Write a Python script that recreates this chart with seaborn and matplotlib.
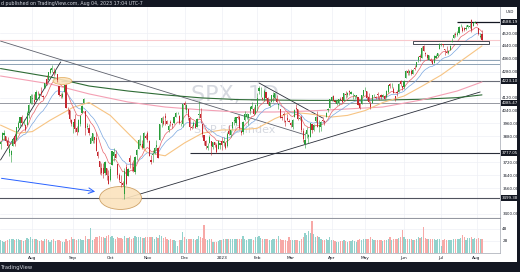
import matplotlib
matplotlib.use('Agg')
import matplotlib.pyplot as plt
from matplotlib.patches import Ellipse, Rectangle
import numpy as np
import pandas as pd
import seaborn as sns

# trading calendar
holidays = ['2022-09-05', '2022-11-24', '2022-12-26', '2023-01-02', '2023-01-16',
            '2023-02-20', '2023-04-07', '2023-05-29', '2023-06-19', '2023-07-04']
dates = pd.bdate_range('2022-07-06', '2023-08-04', freq='C', holidays=holidays)

# daily SPX candles (estimated), one line per month
open_ = [
    3831, 3858, 3888, 3880, 3851, 3779, 3764, 3819, 3883, 3860, 3935, 3960, 3999, 3965, 3953, 3951, 4026, 4087,
    4113, 4105, 4107, 4154, 4116, 4156, 4133, 4181, 4233, 4227, 4270, 4291, 4280, 4274, 4267, 4195, 4136, 4126, 4154, 4199, 4034, 4041, 3981,
    3937, 3986, 3931, 3909, 3959, 4023, 4084, 4037, 3940, 3932, 3830, 3849, 3876, 3871, 3782, 3727, 3682, 3686, 3651, 3687, 3633,
    3609, 3701, 3761, 3771, 3707, 3640, 3595, 3590, 3521, 3690, 3638, 3746, 3696, 3689, 3657, 3764, 3799, 3826, 3834, 3809, 3881,
    3901, 3853, 3734, 3766, 3780, 3817, 3810, 3859, 3964, 3977, 4006, 3976, 3919, 3966, 3956, 3965, 4000, 4024, 4005, 3957, 3957,
    4087, 4041, 4052, 3996, 3937, 3947, 3954, 3940, 4015, 4016, 3958, 3890, 3853, 3811, 3839, 3853, 3815, 3843, 3829, 3805, 3829,
    3853, 3840, 3840, 3823, 3911, 3888, 3932, 3977, 3961, 3999, 4003, 3911, 3910, 3979, 4001, 3997, 4036, 4050, 4049, 4021,
    4071, 4158, 4136, 4120, 4105, 4153, 4117, 4068, 4096, 4126, 4120, 4114, 4077, 4052, 4001, 4018, 3973, 3992, 3977,
    3963, 3939, 3998, 4055, 4048, 3987, 3998, 3912, 3835, 3894, 3876, 3878, 3958, 3917, 3975, 4002, 3939, 3939, 3983, 3974, 3999, 4046, 4056,
    4103, 4128, 4098, 4082, 4085, 4110, 4122, 4100, 4140, 4137, 4164, 4140, 4130, 4133, 4132, 4126, 4088, 4082, 4129,
    4166, 4164, 4122, 4082, 4084, 4136, 4125, 4143, 4132, 4139, 4126, 4128, 4122, 4157, 4204, 4191, 4176, 4132, 4155, 4156, 4226, 4191,
    4183, 4242, 4282, 4271, 4285, 4268, 4304, 4308, 4352, 4375, 4366, 4440, 4397, 4381, 4355, 4355, 4345, 4337, 4367, 4377, 4422,
    4450, 4450, 4422, 4404, 4395, 4415, 4467, 4492, 4514, 4508, 4521, 4563, 4554, 4550, 4544, 4555, 4559, 4598, 4565, 4585,
    4578, 4550, 4494, 4514,
]
high = [
    3851, 3910, 3919, 3880, 3874, 3829, 3796, 3865, 3903, 3940, 3975, 4002, 4013, 3989, 3955, 4039, 4079, 4140,
    4141, 4141, 4167, 4161, 4151, 4186, 4137, 4211, 4258, 4281, 4302, 4325, 4303, 4292, 4267, 4195, 4150, 4156, 4200, 4203, 4062, 4044, 3985,
    3970, 4019, 3942, 3987, 4010, 4077, 4119, 4037, 3960, 3957, 3880, 3902, 3877, 3907, 3790, 3727, 3716, 3717, 3727, 3687, 3671,
    3698, 3791, 3807, 3798, 3711, 3654, 3641, 3601, 3685, 3712, 3686, 3762, 3720, 3736, 3757, 3799, 3862, 3887, 3859, 3905, 3893,
    3911, 3859, 3765, 3796, 3814, 3860, 3813, 3958, 4002, 4008, 4028, 3983, 3954, 3980, 3962, 4005, 4034, 4034, 4013, 3966, 4080,
    4101, 4080, 4052, 4001, 3951, 3977, 3977, 3991, 4101, 4053, 3958, 3890, 3855, 3839, 3889, 3853, 3846, 3846, 3839, 3858, 3840,
    3878, 3874, 3840, 3907, 3951, 3920, 3970, 3998, 4003, 4015, 4015, 3922, 3973, 4039, 4028, 4020, 4069, 4095, 4063, 4079,
    4148, 4195, 4183, 4127, 4176, 4157, 4123, 4095, 4138, 4156, 4149, 4137, 4082, 4052, 4005, 4029, 3979, 4018, 3987,
    3972, 3990, 4048, 4078, 4051, 4002, 4010, 3935, 3905, 3937, 3894, 3965, 3959, 3957, 4009, 4039, 3981, 3976, 4003, 3980, 4030, 4058, 4110,
    4128, 4134, 4108, 4108, 4109, 4124, 4125, 4151, 4164, 4152, 4170, 4163, 4148, 4136, 4138, 4126, 4089, 4139, 4170,
    4187, 4164, 4148, 4099, 4139, 4143, 4131, 4155, 4133, 4143, 4141, 4135, 4165, 4200, 4213, 4210, 4186, 4133, 4165, 4212, 4231, 4192,
    4232, 4290, 4300, 4288, 4299, 4299, 4322, 4341, 4375, 4391, 4439, 4448, 4400, 4390, 4383, 4367, 4362, 4385, 4389, 4398, 4458,
    4456, 4452, 4422, 4440, 4412, 4443, 4489, 4518, 4528, 4532, 4563, 4578, 4565, 4555, 4568, 4569, 4583, 4607, 4590, 4595,
    4584, 4551, 4520, 4540,
]
low = [
    3802, 3858, 3859, 3847, 3811, 3759, 3722, 3818, 3819, 3860, 3929, 3946, 3942, 3953, 3911, 3951, 3997, 4080,
    4079, 4080, 4107, 4136, 4107, 4132, 4112, 4181, 4201, 4227, 4265, 4278, 4254, 4269, 4219, 4131, 4115, 4120, 4154, 4057, 4017, 3971, 3944,
    3903, 3907, 3886, 3906, 3944, 4023, 4084, 3886, 3925, 3887, 3837, 3838, 3838, 3789, 3749, 3647, 3644, 3623, 3640, 3610, 3584,
    3604, 3701, 3727, 3744, 3625, 3599, 3568, 3571, 3492, 3578, 3638, 3687, 3666, 3658, 3647, 3735, 3799, 3824, 3803, 3808, 3863,
    3843, 3759, 3709, 3722, 3773, 3794, 3745, 3859, 3937, 3949, 3953, 3954, 3906, 3944, 3933, 3956, 3999, 4020, 3956, 3945, 3938,
    4051, 4027, 3984, 3918, 3923, 3933, 3934, 3939, 3994, 3966, 3879, 3827, 3800, 3796, 3839, 3765, 3800, 3813, 3780, 3805, 3800,
    3795, 3819, 3803, 3814, 3890, 3877, 3925, 3950, 3951, 3985, 3928, 3886, 3897, 3974, 3990, 3949, 4020, 4048, 4015, 4021,
    4038, 4141, 4124, 4103, 4097, 4111, 4072, 4060, 4092, 4096, 4113, 4089, 4048, 3995, 3981, 3972, 3944, 3977, 3968,
    3940, 3928, 3998, 4044, 3980, 3980, 3908, 3847, 3809, 3873, 3839, 3875, 3901, 3916, 3972, 3936, 3907, 3914, 3971, 3951, 3999, 4032, 4056,
    4100, 4097, 4084, 4073, 4072, 4103, 4087, 4100, 4115, 4123, 4139, 4140, 4114, 4113, 4117, 4072, 4049, 4082, 4128,
    4158, 4104, 4088, 4049, 4084, 4123, 4113, 4114, 4108, 4109, 4124, 4109, 4116, 4150, 4180, 4181, 4146, 4097, 4129, 4156, 4193, 4166,
    4172, 4242, 4262, 4262, 4263, 4267, 4293, 4307, 4339, 4346, 4365, 4407, 4378, 4360, 4352, 4341, 4328, 4336, 4363, 4370, 4422,
    4442, 4431, 4385, 4397, 4390, 4415, 4463, 4492, 4497, 4504, 4514, 4557, 4528, 4531, 4541, 4548, 4548, 4528, 4564, 4579,
    4567, 4505, 4490, 4474,
]
close = [
    3845, 3903, 3899, 3854, 3819, 3801, 3790, 3863, 3830, 3937, 3960, 3999, 3961, 3967, 3921, 4024, 4072, 4130,
    4119, 4091, 4155, 4152, 4145, 4140, 4122, 4210, 4207, 4280, 4297, 4305, 4274, 4284, 4228, 4138, 4128, 4141, 4199, 4058, 4030, 3986, 3955,
    3967, 3924, 3908, 3980, 4006, 4067, 4110, 3932, 3946, 3901, 3873, 3900, 3856, 3790, 3758, 3693, 3655, 3647, 3720, 3640, 3586,
    3678, 3791, 3783, 3745, 3640, 3612, 3589, 3577, 3669, 3583, 3677, 3720, 3695, 3666, 3752, 3797, 3859, 3830, 3807, 3901, 3872,
    3856, 3759, 3720, 3771, 3807, 3828, 3749, 3956, 3993, 3957, 3992, 3959, 3947, 3965, 3950, 4003, 4027, 4026, 3964, 3958, 4080,
    4076, 4072, 3999, 3941, 3933, 3963, 3934, 3990, 4020, 3996, 3896, 3852, 3818, 3821, 3879, 3822, 3845, 3829, 3783, 3849, 3840,
    3824, 3853, 3808, 3895, 3893, 3919, 3970, 3983, 3999, 3991, 3929, 3899, 3972, 4019, 4017, 4016, 4060, 4071, 4018, 4077,
    4119, 4180, 4136, 4111, 4164, 4118, 4082, 4090, 4137, 4136, 4148, 4090, 4079, 3997, 3991, 4012, 3970, 3982, 3970,
    3951, 3981, 4046, 4048, 3986, 3992, 3918, 3862, 3855, 3920, 3891, 3960, 3917, 3951, 4003, 3937, 3948, 3971, 3977, 3971, 4027, 4051, 4109,
    4125, 4101, 4091, 4105, 4109, 4108, 4092, 4146, 4138, 4151, 4155, 4154, 4130, 4133, 4137, 4072, 4056, 4136, 4169,
    4168, 4120, 4091, 4061, 4136, 4138, 4119, 4138, 4131, 4124, 4136, 4110, 4159, 4198, 4192, 4193, 4146, 4116, 4151, 4205, 4206, 4180,
    4221, 4282, 4273, 4284, 4268, 4294, 4299, 4338, 4369, 4373, 4426, 4410, 4389, 4366, 4382, 4348, 4328, 4378, 4376, 4396, 4450,
    4455, 4447, 4412, 4399, 4410, 4439, 4473, 4510, 4505, 4522, 4555, 4566, 4535, 4536, 4554, 4567, 4566, 4537, 4582, 4589,
    4577, 4513, 4501, 4478,
]
# volume in billions
volume = [
    2.1, 2.0, 1.9, 2.0, 2.1, 2.3, 2.4, 2.3, 2.2, 2.4, 2.3, 2.2, 2.1, 2.0, 2.1, 2.5, 2.4, 2.6,
    2.3, 2.4, 2.3, 2.2, 2.0, 2.1, 2.0, 2.4, 2.3, 2.1, 1.9, 2.2, 2.3, 2.0, 2.1, 2.2, 2.0, 1.9, 1.9, 2.3, 2.0, 2.2, 2.6,
    2.4, 2.3, 2.2, 2.3, 2.3, 2.2, 2.1, 2.8, 2.4, 2.4, 4.2, 2.2, 2.3, 2.6, 2.6, 2.8, 2.7, 2.6, 2.5, 2.8, 3.0,
    2.6, 2.8, 2.5, 2.4, 2.6, 2.5, 2.5, 2.3, 2.9, 2.5, 2.5, 2.6, 2.4, 2.5, 2.8, 2.6, 2.6, 2.6, 2.5, 2.5, 2.7,
    2.6, 2.7, 2.6, 2.7, 2.4, 2.6, 2.5, 3.0, 2.8, 2.5, 2.6, 2.4, 2.2, 2.4, 2.2, 2.2, 2.0, 1.2, 2.1, 2.2, 3.5,
    2.7, 2.4, 2.3, 2.4, 2.3, 2.3, 2.1, 2.4, 2.8, 2.7, 2.5, 4.7, 2.3, 2.2, 2.3, 2.4, 1.9, 1.8, 1.9, 2.0, 2.1,
    2.2, 2.4, 2.3, 2.4, 2.3, 2.3, 2.3, 2.4, 2.3, 2.4, 2.4, 2.4, 2.8, 2.3, 2.2, 2.3, 2.4, 2.3, 2.2, 2.6,
    2.7, 2.8, 2.5, 2.3, 2.3, 2.3, 2.3, 2.1, 2.1, 2.4, 2.3, 2.4, 2.8, 2.3, 2.2, 2.2, 2.1, 2.0, 2.6,
    2.2, 2.2, 2.2, 2.1, 2.2, 2.0, 2.4, 2.7, 3.4, 3.0, 3.6, 3.4, 5.3, 3.2, 2.7, 2.9, 2.7, 2.3, 2.2, 2.2, 2.3, 2.1, 2.6,
    2.2, 2.1, 2.0, 1.9, 1.8, 2.0, 2.0, 2.1, 2.0, 1.9, 2.0, 2.0, 2.1, 2.0, 1.9, 2.2, 2.3, 2.2, 2.4,
    2.3, 2.4, 2.4, 2.6, 2.4, 2.1, 2.1, 2.2, 2.2, 2.1, 2.0, 2.2, 2.2, 2.4, 2.7, 2.2, 2.3, 2.3, 2.4, 2.5, 2.6, 3.9,
    2.6, 2.4, 2.3, 2.3, 2.4, 2.2, 2.2, 2.3, 2.6, 2.5, 2.6, 4.3, 2.5, 2.4, 2.3, 2.3, 2.4, 2.3, 2.2, 2.3, 2.4,
    1.1, 2.2, 2.4, 2.2, 2.1, 2.1, 2.2, 2.3, 2.3, 2.3, 2.4, 2.5, 3.0, 2.6, 2.2, 2.5, 2.5, 2.6, 2.4, 2.5,
    2.3, 2.5, 2.4, 2.3,
]

# slower moving averages
ma_dates = ['2022-07-06', '2022-08-15', '2022-09-15', '2022-10-17', '2022-11-15', '2022-12-15', '2023-01-17',
            '2023-02-15', '2023-03-15', '2023-04-17', '2023-05-15', '2023-06-15', '2023-07-17', '2023-08-04']
ma100 = [4254, 4205, 4143, 4093, 4062, 4044, 4031, 4031, 4037, 4050, 4062, 4106, 4161, 4217]
ma200 = [4300, 4248, 4192, 4161, 4137, 4118, 4108, 4105, 4103, 4103, 4105, 4110, 4120, 4137]
ma50_dates = ['2022-07-06', '2022-07-20', '2022-08-01', '2022-08-15', '2022-09-01', '2022-09-15', '2022-10-03',
              '2022-10-17', '2022-11-01', '2022-11-15', '2022-12-01', '2022-12-15', '2023-01-03', '2023-01-17',
              '2023-02-01', '2023-02-15', '2023-03-01', '2023-03-15', '2023-04-03', '2023-04-17', '2023-05-01',
              '2023-05-15', '2023-06-01', '2023-06-15', '2023-07-03', '2023-07-17', '2023-08-04']
ma50 = [3950, 3900, 3910, 3980, 4060, 4090, 4010, 3900, 3780, 3760, 3840, 3900, 3920, 3920,
        3930, 3990, 4030, 4020, 4000, 4010, 4040, 4090, 4130, 4190, 4260, 4330, 4440]

# horizontal levels and axis labels
price_ticks = [3400, 3560, 3640, 3720, 3880, 3960, 4040, 4120, 4280, 4360, 4440, 4520]
month_labels = ['Aug', 'Sep', 'Oct', 'Nov', 'Dec', '2023', 'Feb', 'Mar', 'Apr', 'May', 'Jun', 'Jul', 'Aug']
levels = [4588.19, 4223.10, 4085.47, 3777.05, 3499.38]

df = pd.DataFrame({'date': dates, 'open': open_, 'high': high, 'low': low,
                   'close': close, 'volume': volume})
df['i'] = np.arange(len(df))
df['ema10'] = df['close'].ewm(span=10, adjust=False).mean()
df['ema20'] = df['close'].ewm(span=20, adjust=False).mean()
up = df['close'] >= df['open']


def idx(d):
    return int(df['date'].searchsorted(pd.Timestamp(d)))


sns.set_style('white')
plt.rcParams['font.family'] = ['Liberation Sans Narrow', 'DejaVu Sans']

W, H = 520, 272
fig = plt.figure(figsize=(W / 100, H / 100), dpi=100)


def box(x0, y0, x1, y1):
    return [x0 / W, 1 - y1 / H, (x1 - x0) / W, (y1 - y0) / H]


ax = fig.add_axes(box(0, 7, 500, 218))
axv = fig.add_axes(box(0, 219, 500, 253), sharex=ax)

xmax = 282.2
ax.set_xlim(-0.3, xmax)
ax.set_ylim(3375, 4681)

grid_c = '#eef0f5'
for a in (ax, axv):
    for s in a.spines.values():
        s.set_visible(False)
    a.spines['right'].set_visible(True)
    a.spines['right'].set_color('#b2b5be')
    a.spines['right'].set_linewidth(0.6)
    a.yaxis.tick_right()
    a.tick_params(length=0, labelsize=2.9, colors='#131722', pad=1.6)

month_pos = [int(np.argmax((df['date'].dt.month == d.month) & (df['date'].dt.year == d.year)))
             for d in pd.date_range('2022-08-01', '2023-08-01', freq='MS')]
ax.set_xticks(month_pos)
ax.set_yticks(price_ticks)
ax.set_yticklabels([f'{p:.2f}' for p in price_ticks])
ax.grid(True, color=grid_c, lw=0.5)
ax.tick_params(axis='x', labelbottom=False)
ax.spines['bottom'].set_visible(True)
ax.spines['bottom'].set_color('#9598a1')
ax.spines['bottom'].set_linewidth(0.8)

# watermark
ax.text(0.47, 0.585, 'SPX, 1D', transform=ax.transAxes, fontsize=16, color='#d6d9e0',
        ha='center', va='center', zorder=0, family='DejaVu Sans')
ax.text(0.47, 0.415, 'S&P 500 Index', transform=ax.transAxes, fontsize=8, color='#d6d9e0',
        ha='center', va='center', zorder=0, family='DejaVu Sans')

# horizontal drawings
ax.hlines([4353, 4328], -1, xmax, color='#8ea3b5', lw=0.7, zorder=2)
ax.hlines(levels[1], 34, xmax, color='#6a6d78', lw=0.8, zorder=2)
ax.hlines(levels[2], -1, xmax, color='#9598a1', lw=0.7, zorder=2)
ax.hlines(levels[3], 107, xmax, color='#2a2e39', lw=0.8, zorder=2)
ax.hlines(levels[4], -1, xmax, color='#50535e', lw=0.8, zorder=2)
ax.hlines(levels[0], 258, xmax, color='#131722', lw=0.9, zorder=4)
ax.axhline(df['close'].iloc[-1], color='#f9c9cd', lw=0.8, zorder=1)
ax.add_patch(Rectangle((233, 4452), 43, 19, fc='white', ec='#2a2e39', lw=0.6, zorder=4))

# trend lines
ax.plot([0, 172], [4470, 3890], color='#5d606b', lw=0.6, zorder=2)
ax.plot([0, 34], [3734, 4341], color='#2a2e39', lw=0.6, zorder=2)
ax.plot([146, 182], [4211, 3994], color='#2a2e39', lw=0.6, zorder=2)
ax.plot([69, 271], [3491, 4155], color='#2a2e39', lw=0.6, zorder=2)

# moving averages
sns.lineplot(x=[idx(d) for d in ma_dates], y=ma200, ax=ax, color='#2e6b35', lw=0.8, zorder=3)
sns.lineplot(x=[idx(d) for d in ma_dates], y=ma100, ax=ax, color='#f4a0b4', lw=0.8, zorder=3)
sns.lineplot(x=[idx(d) for d in ma50_dates], y=ma50, ax=ax, color='#f7c483', lw=0.8, zorder=3)
sns.lineplot(data=df, x='i', y='ema20', ax=ax, color='#7aa7e0', lw=0.5, zorder=3)
sns.lineplot(data=df, x='i', y='ema10', ax=ax, color='#e9626a', lw=0.5, zorder=3)
ax.set_xlabel('')
ax.set_ylabel('')

# ellipses and arrow
ax.add_patch(Ellipse((35, 4223), 10.7, 43, fc='#fbe3bd', ec='#e2ad5f', lw=0.6, alpha=0.9, zorder=3))
ax.add_patch(Ellipse((67.8, 3499), 23.7, 142, fc='#fbe3bd', ec='#c9995a', lw=0.6, alpha=0.9, zorder=3))
ax.annotate('', xy=(55, 3536), xytext=(-1, 3623),
            arrowprops=dict(arrowstyle='->', color='#2962ff', lw=0.7), zorder=4)

# candles
cols = np.where(up, '#2a9d3a', '#c4262e')
ax.vlines(df['i'], df['low'], df['high'], colors=cols, lw=0.4, zorder=5)
body = (df['close'] - df['open']).abs().clip(lower=2)
ax.bar(df['i'], body, bottom=df[['open', 'close']].min(axis=1), width=0.65,
       color=cols, lw=0, zorder=6)

# price-axis labels
ax.text(1.012, 1 - 5 / 211, 'USD', transform=ax.transAxes, fontsize=2.8, color='#131722',
        ha='left', va='center')
for lv in levels:
    ax.text(1.004, lv, f'{lv:.2f}', transform=ax.get_yaxis_transform(), fontsize=2.9,
            color='white', ha='left', va='center', zorder=10, clip_on=False,
            bbox=dict(boxstyle='square,pad=0.2', fc='#131722', ec='none'))

# volume pane
vcols = np.where(up, '#92d2cc', '#f7a9a7')
axv.bar(df['i'], df['volume'], width=0.7, color=vcols, lw=0)
axv.set_ylim(0, 34 / 6)
axv.set_yticks([2, 4])
axv.set_yticklabels(['2B', '4B'])
axv.set_xticks(month_pos)
axv.set_xticklabels(month_labels)
axv.grid(True, color=grid_c, lw=0.5)
axv.tick_params(axis='x', pad=2, labelsize=3.1)
axv.spines['bottom'].set_visible(True)
axv.spines['bottom'].set_color('#b2b5be')
axv.spines['bottom'].set_linewidth(0.6)

# frame bars
dark = '#131722'
fig.add_artist(Rectangle((0, 1 - 7 / H), 1, 7 / H, transform=fig.transFigure, fc=dark, ec='none'))
fig.add_artist(Rectangle((0, 0), 1, 10 / H, transform=fig.transFigure, fc=dark, ec='none'))
fig.add_artist(Rectangle((517 / W, 0), 3 / W, 1, transform=fig.transFigure, fc=dark, ec='none'))
fig.text(1 / W, 1 - 3.5 / H, 'd published on TradingView.com, Aug 04, 2023 17:04 UTC-7',
         fontsize=3.4, color='#d1d4dc', ha='left', va='center')
fig.text(1 / W, 5 / H, 'TradingView', fontsize=3.8, color='#d1d4dc', ha='left', va='center')

fig.savefig('out.png', dpi=100)
plt.close(fig)
